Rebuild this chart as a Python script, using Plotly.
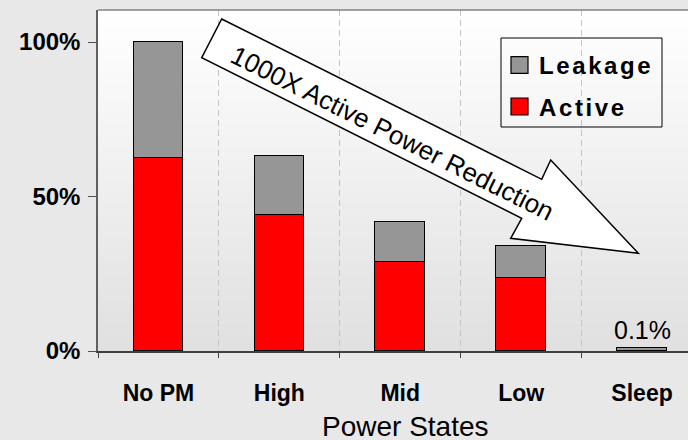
import plotly.graph_objects as go

# ---- data ----
categories = ["No PM", "High", "Mid", "Low", "Sleep"]
active = [62.5, 44.0, 28.8, 23.6, None]
leakage = [37.5, 19.1, 13.0, 10.5, 1.1]
series_names = ["Leakage", "Active"]
y_tickvals = [0, 50, 100]
y_ticktext = ["0%", "50%", "100%"]
sleep_label = "0.1%"
arrow_text = "1000X Active Power Reduction"
x_title = "Power States"

W, H = 688, 440
L, R, T, B = 98, 0, 10, 89
PW, PH = W - L - R, H - T - B

def xp(px):
    return (px - L) / PW

def yp(py):
    return (T + PH - py) / PH

FONT = "Liberation Sans, Arial, sans-serif"
RED = "#ff0000"
GRAY = "#969696"

fig = go.Figure()
fig.add_trace(go.Bar(x=categories, y=active, name=series_names[1], width=0.41,
                     marker=dict(color=RED, line=dict(color="#000000", width=1.5)),
                     showlegend=False))
fig.add_trace(go.Bar(x=categories, y=leakage, name=series_names[0], width=0.41,
                     marker=dict(color=GRAY, line=dict(color="#000000", width=1.5)),
                     showlegend=False))

shapes = []
# gradient plot background
n = 60
for i in range(n):
    t0 = i / n
    t1 = (i + 1) / n
    c = int(round(255 - 31 * (1 - (t0 + t1) / 2)))
    shapes.append(dict(type="rect", xref="paper", yref="paper", x0=0, x1=1,
                       y0=t0, y1=t1 + 0.002, layer="below", line=dict(width=0),
                       fillcolor=f"rgb({c},{c},{c})"))
# top border
shapes.append(dict(type="line", xref="paper", yref="paper", x0=0, x1=1, y0=1, y1=1,
                   line=dict(color="#7f7f7f", width=1.5), layer="above"))
# arrow
pts = [(221.7, 19), (541.7, 179.3), (550.7, 160), (638.3, 253.3),
       (510.7, 238.3), (521.7, 218.3), (201.7, 57.7)]
path = "M " + " L ".join(f"{xp(a):.5f},{yp(b):.5f}" for a, b in pts) + " Z"
shapes.append(dict(type="path", xref="paper", yref="paper", path=path,
                   fillcolor="#ffffff", line=dict(color="#000000", width=1.5), layer="above"))
# custom legend box
shapes.append(dict(type="rect", xref="paper", yref="paper", x0=xp(501), x1=xp(662),
                   y0=yp(127), y1=yp(38), line=dict(color="#000000", width=1),
                   fillcolor="rgba(0,0,0,0)", layer="above"))
shapes.append(dict(type="rect", xref="paper", yref="paper", x0=xp(511), x1=xp(528),
                   y0=yp(73.3), y1=yp(56.7), line=dict(color="#000000", width=1.2),
                   fillcolor=GRAY, layer="above"))
shapes.append(dict(type="rect", xref="paper", yref="paper", x0=xp(511), x1=xp(528),
                   y0=yp(115), y1=yp(98), line=dict(color="#000000", width=1.2),
                   fillcolor=RED, layer="above"))

annotations = [
    dict(text=arrow_text, xref="paper", yref="paper", x=xp(392), y=yp(133),
         textangle=26.6, showarrow=False, font=dict(family=FONT, size=26, color="#000000"),
         xanchor="center", yanchor="middle"),
    dict(text=sleep_label, x=categories[4], y=leakage[4], xref="x", yref="y",
         showarrow=False, yanchor="bottom", yshift=2,
         font=dict(family=FONT, size=25, color="#000000")),
    dict(text=f'<span style="letter-spacing:2.6px">{series_names[0]}</span>', xref="paper", yref="paper",
         x=xp(537), y=yp(66), xanchor="left", yanchor="middle", showarrow=False,
         font=dict(family=FONT, size=24, color="#000000", weight="bold")),
    dict(text=f'<span style="letter-spacing:2.6px">{series_names[1]}</span>', xref="paper", yref="paper",
         x=xp(537), y=yp(108), xanchor="left", yanchor="middle", showarrow=False,
         font=dict(family=FONT, size=24, color="#000000", weight="bold")),
    dict(text=x_title, xref="paper", yref="paper", x=xp(405.5), y=yp(426),
         xanchor="center", yanchor="middle", showarrow=False,
         font=dict(family=FONT, size=28, color="#000000")),
]

fig.update_layout(
    width=W, height=H,
    margin=dict(l=L, r=R, t=T, b=B, autoexpand=False),
    paper_bgcolor="#e8e8e8",
    plot_bgcolor="#ffffff",
    barmode="stack",
    bargap=0,
    showlegend=False,
    shapes=shapes,
    annotations=annotations,
    font=dict(family=FONT, color="#000000"),
)
fig.update_xaxes(
    type="category", categoryorder="array", categoryarray=categories,
    range=[-0.5, -0.5 + PW / 120.9],
    tickson="boundaries", ticks="outside", ticklen=5, tickcolor="#404040", tickwidth=1.2,
    showline=True, linecolor="#404040", linewidth=1.5,
    showgrid=True, gridcolor="#c4c4c4", griddash="6px,4px", gridwidth=1,
    tickfont=dict(family=FONT, size=23, color="#000000", weight="bold"),
    ticklabelstandoff=21, automargin=False, fixedrange=True,
)
fig.update_yaxes(
    range=[0, (PH) / 309 * 100],
    tickvals=y_tickvals, ticktext=y_ticktext,
    ticks="outside", ticklen=8, tickcolor="#505050", tickwidth=1.2,
    showline=True, linecolor="#606060", linewidth=1.5,
    showgrid=False, zeroline=False,
    tickfont=dict(family=FONT, size=24, color="#000000", weight="bold"),
    ticklabelstandoff=3, automargin=False, fixedrange=True,
)

fig.write_html("out.html", config={"displayModeBar": False},
               post_script="document.body.style.margin='0';document.body.style.background='#e8e8e8';")
